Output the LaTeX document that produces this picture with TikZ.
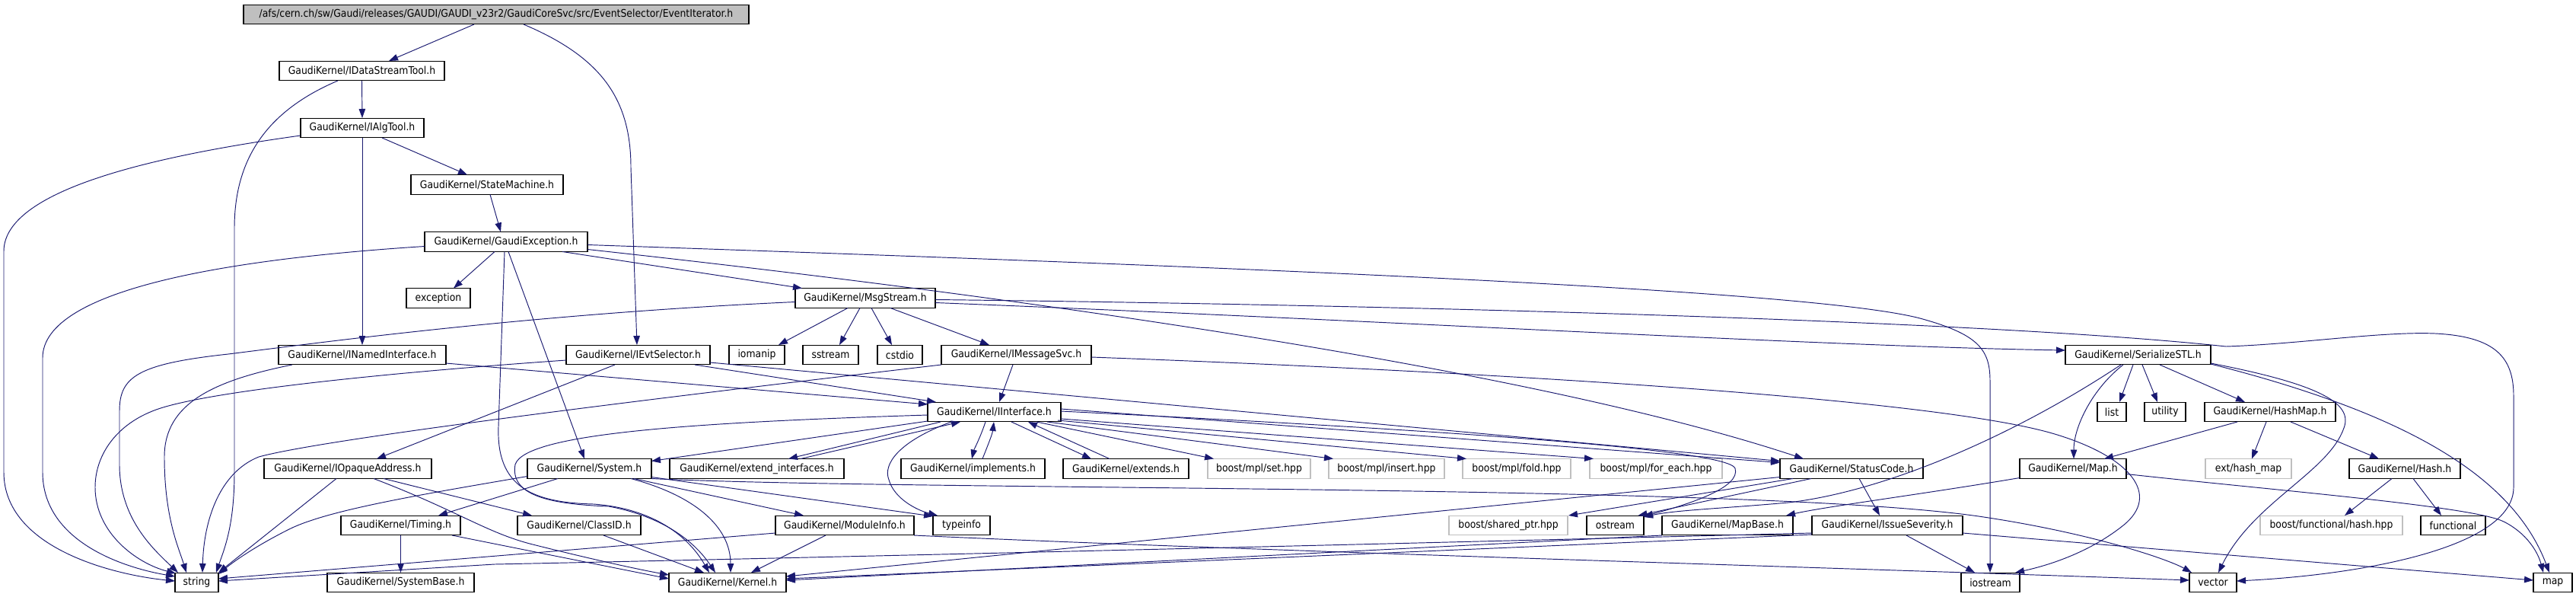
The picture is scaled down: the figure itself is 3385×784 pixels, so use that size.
\documentclass[tikz,border=0pt]{standalone}
\usepackage{fontspec}
\usetikzlibrary{arrows.meta}
\newfontfamily\dfont{DejaVu Sans Condensed}
\newcommand\nfont{\dfont\fontsize{13.8pt}{16pt}\selectfont}
\definecolor{navy}{HTML}{191970}
\definecolor{gray75}{HTML}{BFBFBF}
\tikzset{
  nb/.style={draw=black, fill=white, line width=1.1pt, inner sep=0pt, minimum height=25.5pt, font=\nfont},
  ng/.style={nb, draw=gray75},
  nr/.style={nb, fill=gray75},
  edge/.style={draw=navy, line width=0.95pt, -{Triangle[length=12pt,width=8.5pt]}},
}
\begin{document}
\begin{tikzpicture}[x=1pt,y=-1pt]
\useasboundingbox (0,0) rectangle (3385,784);
% nodes
\node[nr, minimum width=664pt] (root) at (652,19) {/afs/cern.ch/sw/Gaudi/releases/GAUDI/GAUDI\_v23r2/GaudiCoreSvc/src/EventSelector/EventIterator.h};
\node[nb, minimum width=217pt] (ids) at (475.5,93) {GaudiKernel/IDataStreamTool.h};
\node[nb, minimum width=162pt] (iat) at (476,168) {GaudiKernel/IAlgTool.h};
\node[nb, minimum width=200pt] (sm) at (640,242.5) {GaudiKernel/StateMachine.h};
\node[nb, minimum width=214pt] (ge) at (665,317.5) {GaudiKernel/GaudiException.h};
\node[nb, minimum width=84pt] (exc) at (576,391.5) {exception};
\node[nb, minimum width=184pt] (ms) at (1137,391.5) {GaudiKernel/MsgStream.h};
\node[nb, minimum width=220pt] (ini) at (476,466) {GaudiKernel/INamedInterface.h};
\node[nb, minimum width=189pt] (ies) at (838.5,466) {GaudiKernel/IEvtSelector.h};
\node[nb, minimum width=73pt] (iom) at (994.5,466) {iomanip};
\node[nb, minimum width=73pt] (sst) at (1091.5,466) {sstream};
\node[nb, minimum width=59pt] (cst) at (1182.5,466) {cstdio};
\node[nb, minimum width=197pt] (ims) at (1335.5,466) {GaudiKernel/IMessageSvc.h};
\node[nb, minimum width=191pt] (ser) at (2809.5,466) {GaudiKernel/SerializeSTL.h};
\node[nb, minimum width=175pt] (ii) at (1306.5,541) {GaudiKernel/IInterface.h};
\node[nb, minimum width=38pt] (lst) at (2775,541) {list};
\node[nb, minimum width=54pt] (utl) at (2845,541) {utility};
\node[nb, minimum width=172pt] (hm) at (2983,541) {GaudiKernel/HashMap.h};
\node[nb, minimum width=220pt] (ioa) at (457,615.5) {GaudiKernel/IOpaqueAddress.h};
\node[nb, minimum width=163pt] (sys) at (774.5,615.5) {GaudiKernel/System.h};
\node[nb, minimum width=229pt] (ext) at (994.5,615.5) {GaudiKernel/extend\_interfaces.h};
\node[nb, minimum width=189pt] (imp) at (1278.5,615.5) {GaudiKernel/implements.h};
\node[nb, minimum width=165pt] (exs) at (1479.5,615.5) {GaudiKernel/extends.h};
\node[ng, minimum width=135pt] (bset) at (1654.5,615.5) {boost/mpl/set.hpp};
\node[ng, minimum width=152pt] (bins) at (1822,615.5) {boost/mpl/insert.hpp};
\node[ng, minimum width=142pt] (bfold) at (1993,615.5) {boost/mpl/fold.hpp};
\node[ng, minimum width=174pt] (bfe) at (2176,615.5) {boost/mpl/for\_each.hpp};
\node[nb, minimum width=188pt] (sc) at (2433,615.5) {GaudiKernel/StatusCode.h};
\node[nb, minimum width=140pt] (maph) at (2724,615.5) {GaudiKernel/Map.h};
\node[ng, minimum width=113pt] (ehm) at (2954.5,615.5) {ext/hash\_map};
\node[nb, minimum width=146pt] (hash) at (3160,615.5) {GaudiKernel/Hash.h};
\node[nb, minimum width=157pt] (tim) at (526.5,690) {GaudiKernel/Timing.h};
\node[nb, minimum width=162pt] (cid) at (761,690) {GaudiKernel/ClassID.h};
\node[nb, minimum width=182pt] (mi) at (1110,690) {GaudiKernel/ModuleInfo.h};
\node[nb, minimum width=75pt] (ti) at (1263.5,690) {typeinfo};
\node[ng, minimum width=156pt] (bsp) at (1982,690) {boost/shared\_ptr.hpp};
\node[nb, minimum width=75pt] (ost) at (2122.5,690) {ostream};
\node[nb, minimum width=172pt] (mb) at (2270,690) {GaudiKernel/MapBase.h};
\node[nb, minimum width=198pt] (is) at (2480,690) {GaudiKernel/IssueSeverity.h};
\node[ng, minimum width=187pt] (bfh) at (3063.5,690) {boost/functional/hash.hpp};
\node[nb, minimum width=85pt] (fun) at (3223.5,690) {functional};
\node[nb, minimum width=57pt] (str) at (258.5,765) {string};
\node[nb, minimum width=193pt] (sb) at (526.5,765) {GaudiKernel/SystemBase.h};
\node[nb, minimum width=154pt] (ker) at (956,765) {GaudiKernel/Kernel.h};
\node[nb, minimum width=77pt] (ios) at (2615.5,765) {iostream};
\node[nb, minimum width=62pt] (vec) at (2908,765) {vector};
\node[nb, minimum width=51pt] (mp) at (3354.5,765) {map};
% edges
\path[edge] ([shift={(-29,13)}]root.center) -- ([shift={(35.5,-13)}]ids.center);
\path[edge] ([shift={(36,13)}]root.center) .. controls (790,75) and (829,130) .. (829,220) -- ([shift={(-1.5,-13)}]ies.center);
\path[edge] ([shift={(0,13)}]ids.center) -- ([shift={(0,-13)}]iat.center);
\path[edge] ([shift={(-31.5,13)}]ids.center) .. controls (340,150) and (308,220) .. (308,300) -- (308,620) .. controls (308,690) and (295,720) .. ([shift={(25.5,-13)}]str.center);
\path[edge] ([shift={(0,13)}]iat.center) -- ([shift={(0,-13)}]ini.center);
\path[edge] ([shift={(26,13)}]iat.center) -- ([shift={(-26,-13)}]sm.center);
\path[edge] ([shift={(-81,10)}]iat.center) .. controls (200,205) and (5,250) .. (5,330) -- (5,620) .. controls (5,720) and (150,755) .. ([shift={(-28.5,-2)}]str.center);
\path[edge] ([shift={(4,13)}]sm.center) -- ([shift={(-7,-13)}]ge.center);
\path[edge] ([shift={(-107,6)}]ge.center) .. controls (300,340) and (56,380) .. (56,470) -- (56,620) .. controls (56,710) and (160,745) .. ([shift={(-28.5,-8)}]str.center);
\path[edge] ([shift={(-15,13)}]ge.center) -- ([shift={(20,-13)}]exc.center);
\path[edge] ([shift={(74,13)}]ge.center) -- ([shift={(-83,-13)}]ms.center);
\path[edge] ([shift={(107,10)}]ge.center) .. controls (1300,385) and (2000,480) .. ([shift={(-63,-13)}]sc.center);
\path[edge] ([shift={(3,13)}]ge.center) -- ([shift={(-6.5,-13)}]sys.center);
\path[edge] ([shift={(-2,13)}]ge.center) -- (655,560) .. controls (652,640) and (700,660) .. (780,662) .. controls (860,668) and (905,705) .. ([shift={(-24,-13)}]ker.center);
\path[edge] ([shift={(107,4)}]ge.center) .. controls (1600,350) and (2400,380) .. (2530,420) .. controls (2600,440) and (2615,460) .. (2615,500) -- ([shift={(-0.5,-13)}]ios.center);
\path[edge] ([shift={(-92,5)}]ms.center) .. controls (700,412) and (420,450) .. (300,465) .. controls (180,478) and (157,495) .. (157,540) -- (157,610) .. controls (157,680) and (200,720) .. ([shift={(-24.5,-13)}]str.center);
\path[edge] ([shift={(-23,13)}]ms.center) -- ([shift={(28.5,-13)}]iom.center);
\path[edge] ([shift={(-7,13)}]ms.center) -- ([shift={(11.5,-13)}]sst.center);
\path[edge] ([shift={(8,13)}]ms.center) -- ([shift={(-10.5,-13)}]cst.center);
\path[edge] ([shift={(33,13)}]ms.center) -- ([shift={(-35.5,-13)}]ims.center);
\path[edge] ([shift={(92,6)}]ms.center) .. controls (1800,420) and (2400,455) .. ([shift={(-95.5,-6)}]ser.center);
\path[edge] ([shift={(92,2)}]ms.center) .. controls (1800,400) and (2600,420) .. (2925,455) .. controls (3020,452) and (3130,435) .. (3200,438) .. controls (3280,442) and (3303,470) .. (3303,520) -- (3303,640) .. controls (3303,720) and (3100,755) .. ([shift={(31,-2)}]vec.center);
\path[edge] ([shift={(110,11)}]ini.center) -- ([shift={(-87.5,-10)}]ii.center);
\path[edge] ([shift={(-92,13)}]ini.center) .. controls (280,500) and (216,530) .. (216,600) .. controls (216,680) and (235,720) .. ([shift={(-13.5,-13)}]str.center);
\path[edge] ([shift={(-94.5,7)}]ies.center) .. controls (500,490) and (260,515) .. (200,540) .. controls (150,560) and (125,600) .. (125,640) .. controls (125,700) and (180,740) .. ([shift={(-27.5,-12)}]str.center);
\path[edge] ([shift={(-30.5,13)}]ies.center) -- ([shift={(38,-13)}]ioa.center);
\path[edge] ([shift={(74.5,13)}]ies.center) -- ([shift={(-76.5,-13)}]ii.center);
\path[edge] ([shift={(94.5,10)}]ies.center) -- ([shift={(-94,-10)}]sc.center);
\path[edge] ([shift={(-4.5,13)}]ims.center) -- ([shift={(6.5,-13)}]ii.center);
\path[edge] ([shift={(-98.5,13)}]ims.center) .. controls (800,530) and (420,578) .. (340,600) .. controls (290,620) and (268,680) .. ([shift={(7.5,-13)}]str.center);
\path[edge] ([shift={(98.5,3)}]ims.center) .. controls (2000,490) and (2550,525) .. (2700,570) .. controls (2800,600) and (2840,650) .. (2790,690) .. controls (2740,730) and (2680,745) .. ([shift={(32.5,-13)}]ios.center);
\path[edge] ([shift={(-87.5,4)}]ii.center) .. controls (900,555) and (690,570) .. (677,610) .. controls (670,650) and (720,662) .. (800,665) .. controls (870,678) and (912,710) .. ([shift={(-16,-13)}]ker.center);
\path[edge] ([shift={(-87.5,12)}]ii.center) -- ([shift={(81.5,-10)}]sys.center);
\path[edge] ([shift={(-70.5,13)}]ii.center) -- ([shift={(41.5,-13)}]ext.center);
\path[edge] ([shift={(57.5,-13)}]ext.center) -- ([shift={(-44.5,13)}]ii.center);
\path[edge] ([shift={(-11.5,13)}]ii.center) .. controls (1288,575) and (1280,590) .. ([shift={(-1.5,-13)}]imp.center);
\path[edge] ([shift={(12.5,-13)}]imp.center) .. controls (1298,585) and (1304,570) .. ([shift={(-0.5,13)}]ii.center);
\path[edge] ([shift={(22.5,13)}]ii.center) -- ([shift={(-45.5,-13)}]exs.center);
\path[edge] ([shift={(-21.5,-13)}]exs.center) -- ([shift={(44.5,13)}]ii.center);
\path[edge] ([shift={(55.5,13)}]ii.center) -- ([shift={(-59.5,-13)}]bset.center);
\path[edge] ([shift={(69.5,13)}]ii.center) -- ([shift={(-70,-13)}]bins.center);
\path[edge] ([shift={(83.5,11)}]ii.center) -- ([shift={(-66,-13)}]bfold.center);
\path[edge] ([shift={(87.5,9)}]ii.center) -- ([shift={(-82,-13)}]bfe.center);
\path[edge] ([shift={(87.5,-4)}]ii.center) -- ([shift={(-94,-8)}]sc.center);
\path[edge] ([shift={(87.5,-1)}]ii.center) .. controls (1900,565) and (2270,590) .. (2280,615) .. controls (2288,640) and (2220,662) .. ([shift={(37.5,-12)}]ost.center);
\path[edge] ([shift={(-56.5,13)}]ii.center) .. controls (1180,580) and (1160,610) .. (1168,630) .. controls (1175,655) and (1205,670) .. ([shift={(-31.5,-13)}]ti.center);
\path[edge] ([shift={(-15,13)}]ioa.center) -- ([shift={(28.5,-13)}]str.center);
\path[edge] ([shift={(47,13)}]ioa.center) -- ([shift={(-62,-13)}]cid.center);
\path[edge] ([shift={(34,13)}]ioa.center) .. controls (600,670) and (640,700) .. (700,715) .. controls (780,735) and (840,748) .. ([shift={(-77,-10)}]ker.center);
\path[edge] ([shift={(-81.5,10)}]sys.center) .. controls (550,650) and (430,670) .. (380,695) .. controls (340,715) and (310,735) .. ([shift={(28.5,-11)}]str.center);
\path[edge] ([shift={(-41.5,13)}]sys.center) -- ([shift={(49.5,-13)}]tim.center);
\path[edge] ([shift={(54.5,13)}]sys.center) .. controls (910,650) and (960,690) .. ([shift={(4,-13)}]ker.center);
\path[edge] ([shift={(58.5,13)}]sys.center) -- ([shift={(-54,-13)}]mi.center);
\path[edge] ([shift={(81.5,11)}]sys.center) -- ([shift={(-37.5,-12)}]ti.center);
\path[edge] ([shift={(81.5,13)}]sys.center) .. controls (1200,645) and (2300,635) .. (2600,678) .. controls (2750,700) and (2850,735) .. ([shift={(-28,-13)}]vec.center);
\path[edge] ([shift={(0,13)}]tim.center) -- ([shift={(0,-13)}]sb.center);
\path[edge] ([shift={(67.5,13)}]tim.center) -- ([shift={(-77,-5)}]ker.center);
\path[edge] ([shift={(32,13)}]cid.center) -- ([shift={(-31,-13)}]ker.center);
\path[edge] ([shift={(-91,10)}]mi.center) -- ([shift={(28.5,-5)}]str.center);
\path[edge] ([shift={(-25,13)}]mi.center) -- ([shift={(31,-13)}]ker.center);
\path[edge] ([shift={(91,13)}]mi.center) .. controls (1600,722) and (2400,745) .. ([shift={(-31,-3)}]vec.center);
\path[edge] ([shift={(-94,11)}]sc.center) -- ([shift={(77,-8)}]ker.center);
\path[edge] ([shift={(-77,13)}]sc.center) -- ([shift={(79,-13)}]bsp.center);
\path[edge] ([shift={(-53,13)}]sc.center) -- ([shift={(30,-13)}]ost.center);
\path[edge] ([shift={(10,13)}]sc.center) -- ([shift={(-10,-13)}]is.center);
\path[edge] ([shift={(-86,13)}]mb.center) -- ([shift={(77,-3)}]ker.center);
\path[edge] ([shift={(-99,12)}]is.center) -- ([shift={(77,-5)}]ker.center);
\path[edge] ([shift={(-99,10)}]is.center) .. controls (1600,720) and (900,736) .. (650,741) -- ([shift={(28.5,-2)}]str.center);
\path[edge] ([shift={(25,13)}]is.center) -- ([shift={(-20.5,-13)}]ios.center);
\path[edge] ([shift={(99,10)}]is.center) -- ([shift={(-25.5,-3)}]mp.center);
\path[edge] ([shift={(-6.5,13)}]ser.center) -- ([shift={(10,-13)}]lst.center);
\path[edge] ([shift={(5.5,13)}]ser.center) -- ([shift={(-10,-13)}]utl.center);
\path[edge] ([shift={(28.5,13)}]ser.center) -- ([shift={(-33,-13)}]hm.center);
\path[edge] ([shift={(-19.5,13)}]ser.center) .. controls (2750,510) and (2725,560) .. ([shift={(1,-13)}]maph.center);
\path[edge] ([shift={(-22.5,13)}]ser.center) .. controls (2650,570) and (2480,645) .. (2350,660) .. controls (2260,668) and (2200,670) .. ([shift={(37.5,-11)}]ost.center);
\path[edge] ([shift={(95.5,11)}]ser.center) .. controls (3050,505) and (3092,530) .. (3080,562) .. controls (3060,620) and (2960,660) .. ([shift={(7,-13)}]vec.center);
\path[edge] ([shift={(95.5,12)}]ser.center) .. controls (3150,540) and (3300,620) .. ([shift={(-4.5,-13)}]mp.center);
\path[edge] ([shift={(-43,13)}]hm.center) -- ([shift={(41,-13)}]maph.center);
\path[edge] ([shift={(-5,13)}]hm.center) -- ([shift={(4.5,-13)}]ehm.center);
\path[edge] ([shift={(27,13)}]hm.center) -- ([shift={(-34,-13)}]hash.center);
\path[edge] ([shift={(-70,12)}]maph.center) .. controls (2520,650) and (2400,665) .. ([shift={(77,-13)}]mb.center);
\path[edge] ([shift={(70,7)}]maph.center) .. controls (3000,645) and (3250,665) .. (3290,685) .. controls (3320,700) and (3335,725) .. ([shift={(-12.5,-13)}]mp.center);
\path[edge] ([shift={(-17,13)}]hash.center) -- ([shift={(17.5,-13)}]bfh.center);
\path[edge] ([shift={(11,13)}]hash.center) -- ([shift={(-15.5,-13)}]fun.center);
\end{tikzpicture}
\end{document}
